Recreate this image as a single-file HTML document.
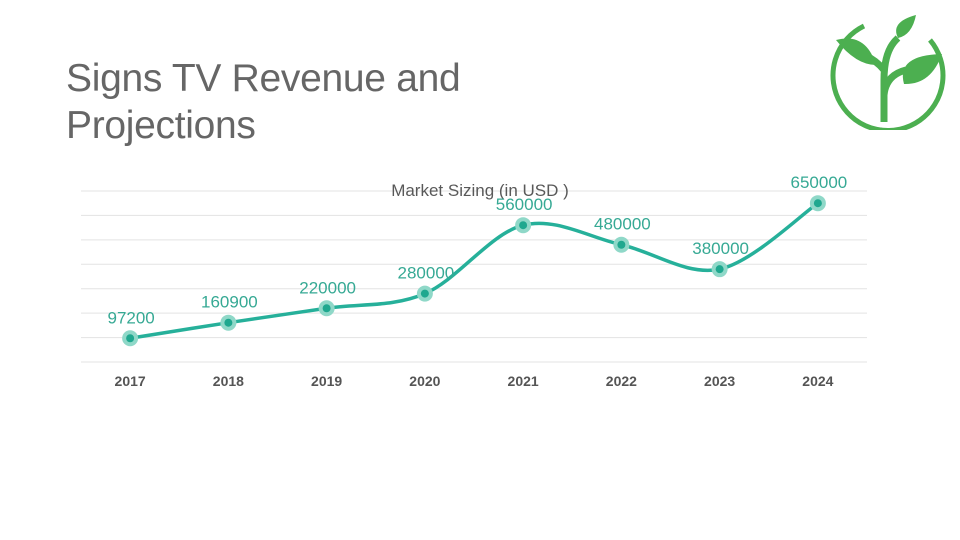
<!DOCTYPE html>
<html><head><meta charset="utf-8"><style>
body{margin:0;width:960px;height:540px;background:#fff;overflow:hidden;font-family:"Liberation Sans",sans-serif}
#title{position:absolute;left:66px;top:55px;font-size:39px;line-height:47px;color:#666;font-weight:300;margin:0;letter-spacing:-0.3px}
</style></head><body>
<h1 id="title">Signs TV Revenue and<br>Projections</h1>
<svg style="position:absolute;left:826px;top:10px" width="120" height="120" viewBox="0 0 120 120">
<path d="M38 16 A55 55 0 1 0 104 30" fill="none" stroke="#4caf50" stroke-width="5"/>
<path d="M58 112 L58 70 Q58 40 72 28" fill="none" stroke="#4caf50" stroke-width="7"/>
<path d="M58 85 Q60 65 80 60" fill="none" stroke="#4caf50" stroke-width="7"/>
<path d="M58 60 Q50 50 38 45" fill="none" stroke="#4caf50" stroke-width="7"/>
<path d="M72 28 Q64 12 90 5 Q86 25 72 28Z" fill="#4caf50"/>
<path d="M50 55 Q30 55 10 30 Q40 22 50 55Z" fill="#4caf50"/>
<path d="M78 74 Q70 45 116 44 Q105 75 78 74Z" fill="#4caf50"/>
</svg>
<svg id="chart" style="position:absolute;left:0;top:0" width="960" height="540"></svg>
<script>
const categories=["2017","2018","2019","2020","2021","2022","2023","2024"];
const values=[97200,160900,220000,280000,560000,480000,380000,650000];
const gridTicks=[0,100000,200000,300000,400000,500000,600000,700000];
const NS="http://www.w3.org/2000/svg";
const svg=document.getElementById('chart');
const x0=81,x1=867,yTop=191,yBot=362,yMax=700000;
const step=(x1-x0)/categories.length;
const xs=i=>x0+step*(i+0.5);
const ys=v=>yBot-(v/yMax)*(yBot-yTop);
function mk(t,a){const e=document.createElementNS(NS,t);for(const k in a)e.setAttribute(k,a[k]);svg.appendChild(e);return e;}
gridTicks.forEach(t=>{const l=mk('line',{x1:x0,x2:x1,y1:ys(t),y2:ys(t),stroke:'#e3e3e3','stroke-width':1});

});
const tt=mk('text',{x:480,y:196,'text-anchor':'middle','font-size':17,fill:'#595959'});
tt.textContent='Market Sizing (in USD )';


const pts=values.map((v,i)=>[xs(i),ys(v)]);
let d=`M${pts[0][0]},${pts[0][1]}`;
for(let i=0;i<pts.length-1;i++){const p0=pts[i-1]||pts[i],p1=pts[i],p2=pts[i+1],p3=pts[i+2]||p2;
d+=` C${p1[0]+(p2[0]-p0[0])/6},${p1[1]+(p2[1]-p0[1])/6} ${p2[0]-(p3[0]-p1[0])/6},${p2[1]-(p3[1]-p1[1])/6} ${p2[0]},${p2[1]}`;}
const ln=mk('path',{d:d,fill:'none',stroke:'#26b09a','stroke-width':3.5});


values.forEach((v,i)=>{
const h=mk('circle',{cx:xs(i),cy:ys(v),r:8,fill:'#8fd8c8'});


const c=mk('circle',{cx:xs(i),cy:ys(v),r:4,fill:'#1fa88f'});


const lb=mk('text',{x:xs(i)+1,y:ys(v)-15,'text-anchor':'middle','font-size':17,fill:'#36a994'});
lb.textContent=String(v);


const xl=mk('text',{x:xs(i),y:386,'text-anchor':'middle','font-size':14,'font-weight':'bold',fill:'#555'});
xl.textContent=categories[i];


});
</script>
</body></html>
